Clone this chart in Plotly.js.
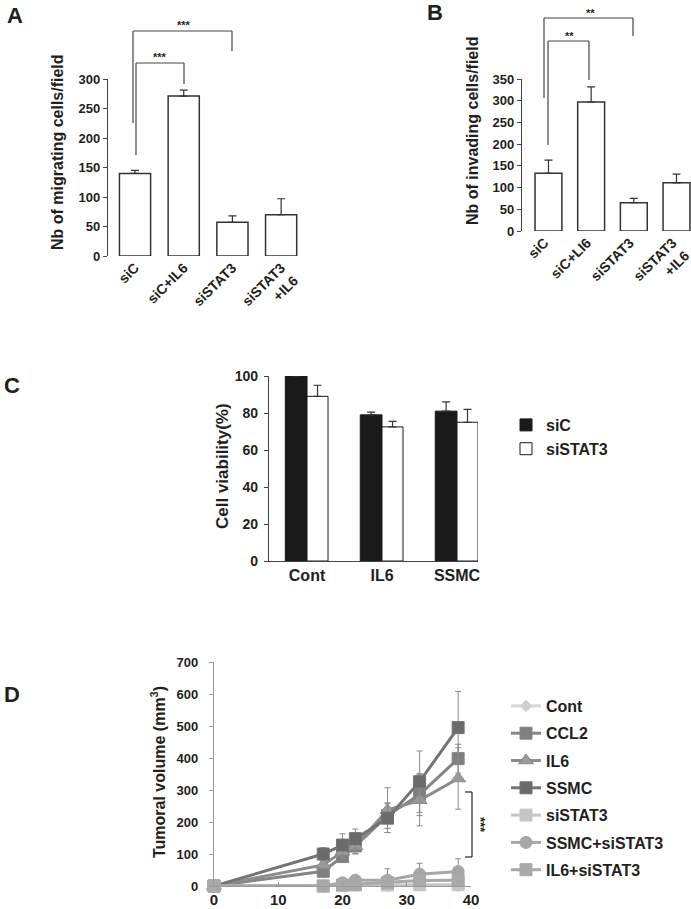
<!DOCTYPE html>
<html><head><meta charset="utf-8">
<script src="https://cdn.plot.ly/plotly-3.0.1.min.js"></script>
<style>html,body{margin:0;padding:0;background:#fff}#chart{width:691px;height:909px}</style>
</head><body><div id="chart"></div>
<script>
// ---- Panel A: migration ----
const migrationCategories = ['siC', 'siC+IL6', 'siSTAT3', 'siSTAT3<br>+IL6'];
const migrationValues = [140, 271, 57, 70];
const migrationErrors = [5, 10, 11, 27];
const migrationTicks = [0, 50, 100, 150, 200, 250, 300];
// ---- Panel B: invasion ----
const invasionCategories = ['siC', 'siC+LI6', 'siSTAT3', 'siSTAT3<br>+IL6'];
const invasionValues = [133, 297, 65, 111];
const invasionErrors = [30, 35, 10, 20];
const invasionTicks = [0, 50, 100, 150, 200, 250, 300, 350];
// ---- Panel C: viability ----
const viabilityCategories = ['Cont', 'IL6', 'SSMC'];
const viabilitySiC = [100, 79, 81];
const viabilitySiCErr = [0, 1.5, 5];
const viabilitySiSTAT3 = [89, 72.5, 75];
const viabilitySiSTAT3Err = [6, 3, 7];
const viabilityTicks = [0, 20, 40, 60, 80, 100];
// ---- Panel D: tumour volume ----
const days = [0, 17, 20, 22, 27, 32, 38];
const dayTicks = [0, 10, 20, 30, 40];
const volumeTicks = [0, 100, 200, 300, 400, 500, 600, 700];
const volCont = [0, 0, 0, 0, 0, 0, 0];
const volCCL2 = [0, 46, 92, 125, 220, 286, 398];
const errCCL2 = [0, 8, 10, 25, 40, 66, 45];
const volIL6 = [0, 66, 107, 124, 237, 268, 336];
const errIL6 = [0, 10, 20, 22, 70, 80, 96];
const volSSMC = [0, 100, 128, 148, 212, 326, 495];
const errSSMC = [0, 20, 35, 30, 45, 96, 113];
const volSiSTAT3 = [0, 0, 2, 3, 3, 4, 4];
const volSSMCsiSTAT3 = [0, 0, 10, 18, 18, 37, 45];
const errSSMCsiSTAT3 = [0, 0, 5, 8, 36, 34, 40];
const volIL6siSTAT3 = [0, 0, 3, 5, 10, 17, 18];
const errIL6siSTAT3 = [0, 0, 2, 3, 5, 5, 5];

const W = 691, H = 909;
const px = x => x / W;
const py = y => 1 - y / H;
const FONT = 'Liberation Sans, Arial, Helvetica, sans-serif';
const TXT = '#231f20';
const zeros = a => a.map(() => 0);
const bf = (size, color) => ({family: FONT, size: size, color: color || TXT, weight: 'bold'});
const boldText = v => String(v).split('<br>').map(s => '<b>' + s + '</b>').join('<br>');
const boldTicks = arr => ({tickvals: arr, ticktext: arr.map(boldText)});

const upErr = (arr, color) => ({type: 'data', symmetric: false, array: arr, arrayminus: zeros(arr),
  color: color || '#333', thickness: 1.2, width: 4});

const traces = [];
traces.push({type: 'bar', x: migrationCategories, y: migrationValues, width: 0.64,
  marker: {color: '#fff', line: {color: '#333', width: 1.5}}, error_y: upErr(migrationErrors),
  xaxis: 'x', yaxis: 'y', showlegend: false, hoverinfo: 'skip'});
traces.push({type: 'bar', x: invasionCategories, y: invasionValues, width: 0.63,
  marker: {color: '#fff', line: {color: '#333', width: 1.5}}, error_y: upErr(invasionErrors),
  xaxis: 'x2', yaxis: 'y2', showlegend: false, hoverinfo: 'skip'});
traces.push({type: 'bar', name: 'siC', x: viabilityCategories, y: viabilitySiC, offset: -0.29, width: 0.29,
  marker: {color: '#1a1a1a', line: {color: '#1a1a1a', width: 1}}, error_y: upErr(viabilitySiCErr),
  xaxis: 'x3', yaxis: 'y3', legend: 'legend', legendgroup: 'c1'});
traces.push({type: 'bar', name: 'siSTAT3', x: viabilityCategories, y: viabilitySiSTAT3, offset: 0, width: 0.28,
  marker: {color: '#fff', line: {color: '#1a1a1a', width: 1}}, error_y: upErr(viabilitySiSTAT3Err),
  xaxis: 'x3', yaxis: 'y3', legend: 'legend', legendgroup: 'c2'});

function volTrace(name, y, err, color, symbol, size, lineColor) {
  return {type: 'scatter', mode: 'lines+markers', name: name, x: days, y: y,
    line: {color: lineColor || color, width: 3},
    marker: {color: color, symbol: symbol, size: size, line: {color: lineColor || color, width: 1}},
    error_y: err ? {type: 'data', array: err, color: '#8a8a8a', thickness: 1, width: 3} : undefined,
    cliponaxis: false, xaxis: 'x4', yaxis: 'y4', legend: 'legend2', legendgroup: 'd_' + name};
}
traces.push(volTrace('Cont', volCont, null, '#cfcfcf', 'diamond', 9, '#d6d6d6'));
traces.push(volTrace('CCL2', volCCL2, errCCL2, '#808080', 'square', 12, '#858585'));
traces.push(volTrace('IL6', volIL6, errIL6, '#9a9a9a', 'triangle-up', 13, '#8c8c8c'));
traces.push(volTrace('SSMC', volSSMC, errSSMC, '#6b6b6b', 'square', 12, '#737373'));
traces.push(volTrace('siSTAT3', volSiSTAT3, null, '#c6c6c6', 'square', 12, '#c6c6c6'));
traces.push(volTrace('SSMC+siSTAT3', volSSMCsiSTAT3, errSSMCsiSTAT3, '#a6a6a6', 'circle', 12, '#a6a6a6'));
traces.push(volTrace('IL6+siSTAT3', volIL6siSTAT3, errIL6siSTAT3, '#a9a9a9', 'square', 12, '#a9a9a9'));

const yBase = {showgrid: false, zeroline: false, showline: true, linecolor: '#444', linewidth: 1.2,
  ticks: 'outside', ticklen: 4, tickcolor: '#444', tickfont: bf(13), fixedrange: true};
const xCat = {type: 'category', showgrid: false, zeroline: false, showline: false, ticks: '',
  fixedrange: true};

const layout = {
  width: W, height: H, margin: {l: 0, r: 0, t: 0, b: 0}, paper_bgcolor: '#fff', plot_bgcolor: 'rgba(0,0,0,0)',
  font: {family: FONT, color: TXT}, barmode: 'group',
  xaxis: Object.assign({}, xCat, boldTicks(migrationCategories), {domain: [px(108), px(300.6)], range: [-0.555, 3.4], anchor: 'y',
    tickangle: -45, tickfont: bf(14)}),
  yaxis: Object.assign({}, yBase, boldTicks(migrationTicks), {domain: [py(256), py(79)], range: [0, 300], anchor: 'x'}),
  xaxis2: Object.assign({}, xCat, boldTicks(invasionCategories), {domain: [px(522), px(691)], range: [-0.62, 3.34], anchor: 'y2',
    tickangle: -45, tickfont: bf(14), ticklabelshift: -4}),
  yaxis2: Object.assign({}, yBase, boldTicks(invasionTicks), {domain: [py(231), py(79)], range: [0, 350], anchor: 'x2'}),
  xaxis3: Object.assign({}, xCat, boldTicks(viabilityCategories), {domain: [px(269), px(478)], range: [-0.507, 2.28], anchor: 'y3',
    showline: true, linecolor: '#444', linewidth: 1.2, tickfont: bf(16)}),
  yaxis3: Object.assign({}, yBase, boldTicks(viabilityTicks), {domain: [py(561), py(376)], range: [0, 100], anchor: 'x3',
    tickfont: bf(14), ticklabelstandoff: 3}),
  xaxis4: Object.assign({domain: [px(214), px(471)], range: [0, 40], anchor: 'y4',
    showgrid: false, zeroline: false, showline: true, linecolor: '#9a9a9a', linewidth: 1.2,
    ticks: 'inside', ticklen: 4, tickcolor: '#9a9a9a', tickfont: bf(15), fixedrange: true}, boldTicks(dayTicks)),
  yaxis4: Object.assign({domain: [py(886), py(662)], range: [0, 700], anchor: 'x4',
    showgrid: false, zeroline: false, showline: true, linecolor: '#9a9a9a', linewidth: 1.2,
    ticks: 'outside', ticklen: 4, tickcolor: '#9a9a9a', tickfont: bf(13), ticklabelstandoff: 8, fixedrange: true}, boldTicks(volumeTicks)),
  legend: {x: px(506), y: py(408), xanchor: 'left', yanchor: 'top', font: bf(16),
    tracegroupgap: 0, bgcolor: 'rgba(0,0,0,0)', traceorder: 'normal'},
  legend2: {x: px(506), y: py(689), xanchor: 'left', yanchor: 'top', font: bf(16),
    tracegroupgap: 3.5, bgcolor: 'rgba(0,0,0,0)', traceorder: 'grouped'},
  annotations: [],
  shapes: []
};

function ann(x, y, text, size, angle, extra) {
  layout.annotations.push(Object.assign({xref: 'paper', yref: 'paper', x: px(x), y: py(y), text: text,
    showarrow: false, font: bf(size), textangle: angle || 0, xanchor: 'center', yanchor: 'middle'}, extra || {}));
}
function seg(x0, y0, x1, y1, color) {
  layout.shapes.push({type: 'line', xref: 'paper', yref: 'paper', x0: px(x0), y0: py(y0), x1: px(x1), y1: py(y1),
    line: {color: color || '#444', width: 1.2}});
}
// panel letters
ann(15, 16, 'A', 22); ann(435, 12, 'B', 22); ann(12, 386, 'C', 22); ann(12, 694, 'D', 22);
// axis titles
ann(58, 152, 'Nb of migrating cells/field', 16, -90);
ann(472, 131, 'Nb of invading cells/field', 16, -90);
ann(223, 466, 'Cell viability(%)', 17, -90);
ann(158, 772, 'Tumoral volume (mm<sup>3</sup>)', 16, -90);
// significance brackets A
seg(133, 123, 133, 31); seg(133, 31, 232, 31); seg(232, 31, 232, 51);
seg(136, 155, 136, 63); seg(136, 63, 184, 63); seg(184, 63, 184, 84);
ann(184, 25, '***', 11); ann(160, 57, '***', 11);
// significance brackets B
seg(544, 98, 544, 18); seg(544, 18, 633, 18); seg(633, 18, 633, 36);
seg(548, 145, 548, 41); seg(548, 41, 589, 41); seg(589, 41, 589, 80);
ann(590, 13, '**', 11); ann(569, 36, '**', 11);
// bracket D
seg(465, 792, 472, 792, '#222'); seg(472, 792, 472, 857, '#222'); seg(465, 857, 472, 857, '#222');
ann(481, 825, '***', 13, 90);

Plotly.newPlot('chart', traces, layout, {displayModeBar: false, staticPlot: true});
</script></body></html>
